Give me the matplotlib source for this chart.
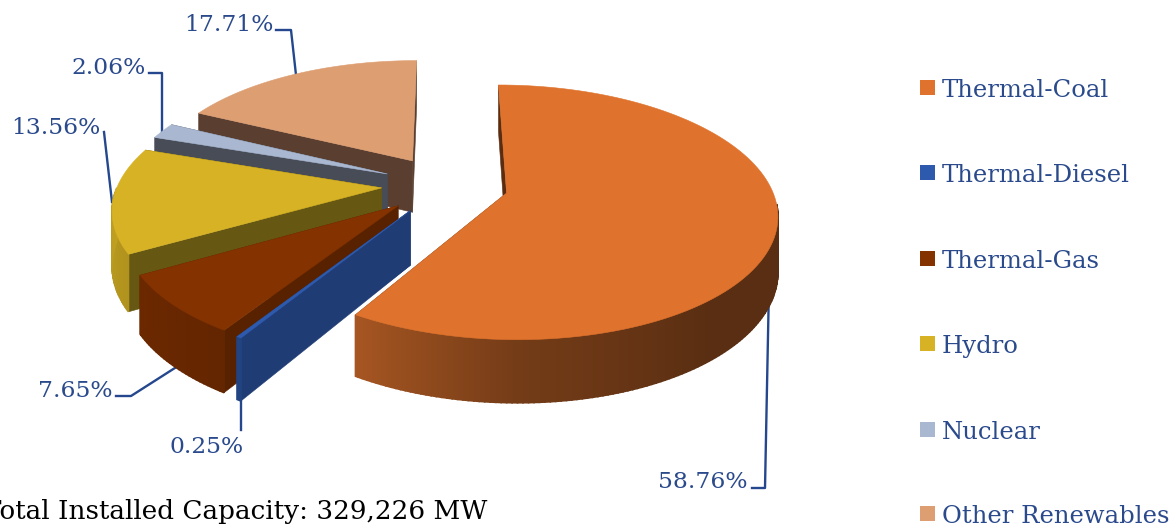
import numpy as np
import matplotlib
matplotlib.use("Agg")
import matplotlib.pyplot as plt

categories = ["Thermal-Coal", "Thermal-Diesel", "Thermal-Gas", "Hydro", "Nuclear", "Other Renewables"]
shares = [58.76, 0.25, 7.65, 13.56, 2.06, 17.71]
total_text = "Total Installed Capacity: 329,226 MW"

top_colors = ["#DF732D", "#2E5AAE", "#843200", "#D6B224", "#A9B7D1", "#DD9E72"]
face_colors = ["#5C2C10", "#1F3C74", "#582200", "#665713", "#474C56", "#5A3F30"]
text_color = "#2A4A8C"
line_color = "#24478D"

# pie geometry, in pixels
cx, cy = 445, 185
rx, ry = 264, 122
depth = 53
explode = 0.24
persp = 0.15


def project(gx, gy, z=0):
    s = 1 / (1 - persp * gy)
    return cx + rx * gx * s, cy + ry * gy * s + depth * z * s


def rim_shade(a):
    # light falls from the left, the right side of the rim is darkest
    return np.interp(a, [90, 140, 180, 212, 240, 270], [0.40, 0.40, 0.52, 0.75, 0.82, 0.90])


def scaled(color, f):
    rgb = np.array(matplotlib.colors.to_rgb(color))
    return tuple(rgb * f)


def quad(ax, pts, color, zorder, lw=0.4):
    xs = [p[0] for p in pts]
    ys = [p[1] for p in pts]
    ax.fill(xs, ys, color=color, lw=lw, zorder=zorder)


plt.rcParams["font.family"] = "DejaVu Serif"

fig = plt.figure(figsize=(11.7, 5.26), dpi=100)
ax = fig.add_axes([0, 0, 1, 1])
ax.set_xlim(0, 1170)
ax.set_ylim(526, 0)
ax.axis("off")

edges = np.concatenate([[0], np.cumsum(shares)]) / sum(shares) * 360

# far slices first so the near ones sit on top
order = sorted(range(len(shares)), key=lambda i: -np.cos(np.radians((edges[i] + edges[i + 1]) / 2)))
z = 2
for i in order:
    a1, a2 = edges[i], edges[i + 1]
    mid = np.radians((a1 + a2) / 2)
    ox = explode * np.sin(mid)
    oy = -explode * np.cos(mid)

    def rim(a):
        t = np.radians(a)
        return ox + np.sin(t), oy - np.cos(t)

    apex = (ox, oy)
    # the two cut faces
    for a, col in [(a2, scaled(top_colors[i], 0.9) if a2 == 360 else face_colors[i]), (a1, face_colors[i])]:
        r = rim(a)
        quad(ax, [project(*apex), project(*r), project(*r, 1), project(*apex, 1)], col, z)
        z += 1

    # outer wall, split in thin strips for the shading
    angles = np.arange(a1, a2, 1.0)
    angles = np.append(angles, a2)
    for b1, b2 in zip(angles[:-1], angles[1:]):
        if 95 <= (b1 + b2) / 2 <= 270:
            col = scaled(top_colors[i], rim_shade((b1 + b2) / 2))
            quad(ax, [project(*rim(b1)), project(*rim(b2)), project(*rim(b2), 1), project(*rim(b1), 1)], col, z, lw=1.2)
    z += 1

    # top surface
    angles = np.linspace(a1, a2, 120)
    pts = [project(*apex)] + [project(*rim(a)) for a in angles]
    quad(ax, pts, top_colors[i], z)
    z += 1

# value labels and their leader lines
label_pos = [(748, 488), (244, 453), (113, 397), (100, 134), (146, 74), (274, 31)]
leaders = [
    [(752, 488), (765, 488), (769, 285)],
    [(241, 400), (241, 430)],
    [(116, 396), (131, 396), (178, 366)],
    [(104, 132), (112, 202)],
    [(149, 73), (162, 73), (162, 132)],
    [(276, 30), (291, 30), (296, 75)],
]
for share, pos, line in zip(shares, label_pos, leaders):
    ax.text(pos[0], pos[1], f"{share:.2f}%", ha="right", va="baseline", color=text_color,
            fontsize=23.4 * 72 / 100)
    ax.plot([p[0] for p in line], [p[1] for p in line], color=line_color, lw=1.7, zorder=1)

# legend
legend_base = [97, 182, 268, 353, 439, 523]
for name, col, base in zip(categories, top_colors, legend_base):
    ax.add_patch(plt.Rectangle((920, base - 17), 15, 15, color=col, lw=0))
    ax.text(942, base, name, ha="left", va="baseline", color=text_color, fontsize=24.3 * 72 / 100)

ax.text(487, 519, total_text, ha="right", va="baseline", color="black", fontsize=26.3 * 72 / 100)

fig.savefig("out.png", dpi=100)
